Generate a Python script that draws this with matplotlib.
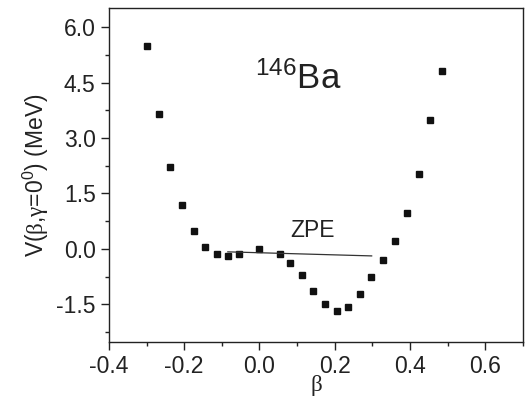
import numpy as np
import matplotlib
matplotlib.use("Agg")
import matplotlib.pyplot as plt
from matplotlib.ticker import MultipleLocator

plt.rcParams['font.family'] = ['Liberation Sans', 'DejaVu Sans']
plt.rcParams['mathtext.fontset'] = 'custom'
plt.rcParams['mathtext.rm'] = 'Liberation Sans'
plt.rcParams['mathtext.sf'] = 'Liberation Serif'
plt.rcParams['mathtext.default'] = 'regular'

# potential energy curve V(beta, gamma=0) for 146Ba
beta = [-0.299, -0.267, -0.237, -0.205, -0.175, -0.144, -0.114, -0.084, -0.054,
        0.0, 0.054, 0.082, 0.112, 0.143, 0.174, 0.205, 0.235, 0.266, 0.297,
        0.328, 0.359, 0.392, 0.423, 0.453, 0.485]
energy = [5.48, 3.64, 2.22, 1.19, 0.49, 0.05, -0.135, -0.19, -0.13,
          0.01, -0.13, -0.39, -0.71, -1.13, -1.49, -1.68, -1.58, -1.22, -0.75,
          -0.29, 0.22, 0.96, 2.02, 3.48, 4.81]

# zero point energy line
zpe_beta = [-0.084, 0.298]
zpe_energy = [-0.08, -0.19]

fig = plt.figure(figsize=(5.31, 4.0), dpi=100)
ax = fig.add_axes([0.205, 0.145, 0.78, 0.835])

ax.plot(beta, energy, 's', color='#111111', ms=5, mec='#111111')
ax.plot(zpe_beta, zpe_energy, '-', color='#333333', lw=0.9)

ax.text(0.142, 0.2, 'ZPE', fontsize=16.5, ha='center', va='bottom', color='#222222')
ax.text(0.104, 4.32, r'$^{146}$Ba', fontsize=25, ha='center', va='baseline', color='#222222')

ax.set_xlim(-0.4, 0.7)
ax.set_ylim(-2.52, 6.52)
ax.xaxis.set_major_locator(MultipleLocator(0.2))
ax.xaxis.set_minor_locator(MultipleLocator(0.1))
ax.yaxis.set_major_locator(MultipleLocator(1.5))
ax.yaxis.set_minor_locator(MultipleLocator(0.75))
ax.xaxis.set_major_formatter(plt.FuncFormatter(lambda v, p: '%.1f' % v))
ax.yaxis.set_major_formatter(plt.FuncFormatter(lambda v, p: '%.1f' % v))

ax.tick_params(which='both', direction='out', top=False, right=False,
               labelsize=16.5, colors='#222222', width=1)
ax.tick_params(which='major', length=6)
ax.tick_params(which='minor', length=3)
for s in ax.spines.values():
    s.set_linewidth(1)
    s.set_color('#222222')

ax.set_xlabel('β', family='Liberation Serif', fontsize=16.5, labelpad=-2, color='#222222')
ax.set_ylabel(r'V($\mathsf{\beta}$,$\mathsf{\gamma}$=0$^0$) (MeV)', fontsize=16.5,
              labelpad=4, color='#222222')

plt.savefig('out.png', dpi=100)
